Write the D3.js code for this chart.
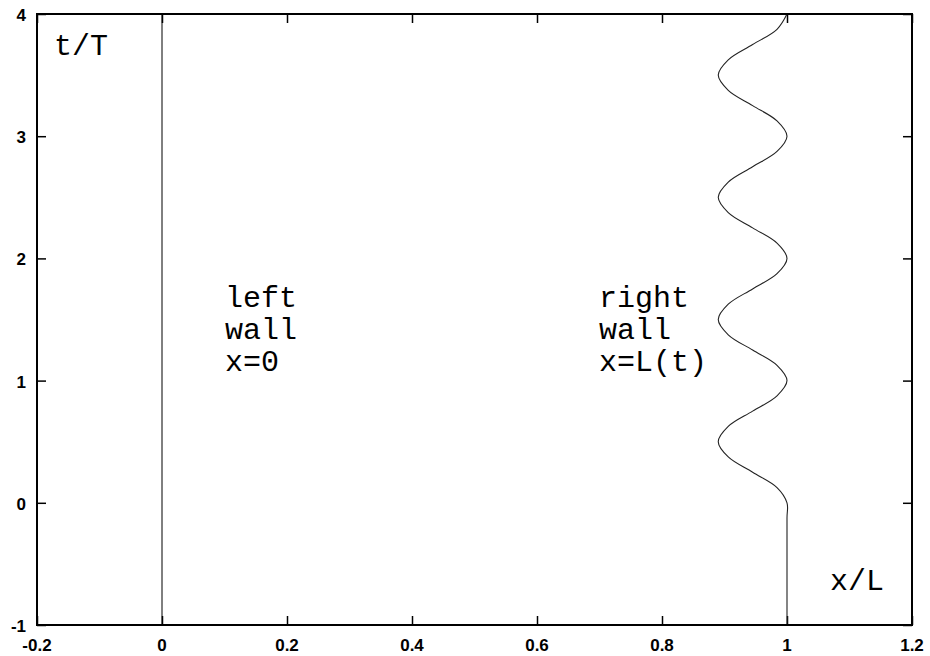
<!DOCTYPE html>
<html>
<head>
<meta charset="utf-8">
<script src="https://d3js.org/d3.v7.min.js"></script>
<style>
  body { margin: 0; background: #fff; }
  svg { display: block; }
</style>
</head>
<body>
<svg id="svg" width="930" height="656"></svg>
<script>
// x/L ticks and t/T ticks
const xTicks = [-0.2, 0, 0.2, 0.4, 0.6, 0.8, 1, 1.2];
const xTickLabels = ['-0.2', '0', '0.2', '0.4', '0.6', '0.8', '1', '1.2'];
const yTicks = [-1, 0, 1, 2, 3, 4];
const yTickLabels = ['-1', '0', '1', '2', '3', '4'];

// left wall: x = 0 for all t
const leftWallT = [-1, 4];
const leftWallX = [0, 0];

// right wall x = L(t)
const rightWallT = [-1, -0.125, 0, 0.125, 0.25, 0.375, 0.5, 0.625, 0.75, 0.875,
    1, 1.125, 1.25, 1.375, 1.5, 1.625, 1.75, 1.875,
    2, 2.125, 2.25, 2.375, 2.5, 2.625, 2.75, 2.875,
    3, 3.125, 3.25, 3.375, 3.5, 3.625, 3.75, 3.875, 4];
const rightWallX = [1, 1, 1, 0.984, 0.945, 0.906, 0.89, 0.906, 0.945, 0.984,
    1, 0.984, 0.945, 0.906, 0.89, 0.906, 0.945, 0.984,
    1, 0.984, 0.945, 0.906, 0.89, 0.906, 0.945, 0.984,
    1, 0.984, 0.945, 0.906, 0.89, 0.906, 0.945, 0.984, 1];

const svg = d3.select('#svg');
const padding = {top: 14, right: 18, bottom: 31, left: 37};
const chartArea = {
    'width': 930 - padding.left - padding.right,
    'height': 656 - padding.top - padding.bottom
};
const monoFont = '"Liberation Mono", "Courier New", "DejaVu Sans Mono", monospace';
const sansFont = '"Liberation Sans", Arial, sans-serif';

const xScale = d3.scaleLinear().domain([-0.2, 1.2]).range([0, chartArea.width]);
const yScale = d3.scaleLinear().domain([-1, 4]).range([chartArea.height, 0]);

const g = svg.append('g')
    .attr('transform', 'translate(' + padding.left + ',' + padding.top + ')');

// inward tick marks on all four sides, no labels from the axis itself
function ticksOnly(sel) {
    sel.select('.domain').remove();
    sel.selectAll('.tick text').remove();
    sel.selectAll('.tick line').attr('stroke', '#000').attr('stroke-width', 1.5);
}
g.append('g')
    .attr('transform', 'translate(0,' + chartArea.height + ')')
    .call(d3.axisBottom(xScale).tickValues(xTicks).tickSize(-9))
    .call(ticksOnly);
g.append('g')
    .call(d3.axisTop(xScale).tickValues(xTicks).tickSize(-9))
    .call(ticksOnly);
g.append('g')
    .call(d3.axisLeft(yScale).tickValues(yTicks).tickSize(-9))
    .call(ticksOnly);
g.append('g')
    .attr('transform', 'translate(' + chartArea.width + ',0)')
    .call(d3.axisRight(yScale).tickValues(yTicks).tickSize(-9))
    .call(ticksOnly);

// tick labels
g.selectAll('text.xlab').data(xTicks)
    .enter()
    .append('text')
    .classed('xlab', true)
    .attr('x', function(d) { return xScale(d); })
    .attr('y', chartArea.height + 26)
    .attr('text-anchor', 'middle')
    .attr('font-family', sansFont)
    .attr('font-size', 17)
    .attr('font-weight', 'bold')
    .attr('fill', '#000')
    .text(function(d, i) { return xTickLabels[i]; });

g.selectAll('text.ylab').data(yTicks)
    .enter()
    .append('text')
    .classed('ylab', true)
    .attr('x', -11)
    .attr('y', function(d) { return yScale(d) + 7; })
    .attr('text-anchor', 'end')
    .attr('font-family', sansFont)
    .attr('font-size', 17)
    .attr('font-weight', 'bold')
    .attr('fill', '#000')
    .text(function(d, i) { return yTickLabels[i]; });

// walls
const line = d3.line()
    .x(function(d) { return xScale(d[0]); })
    .y(function(d) { return yScale(d[1]); });

g.append('path')
    .attr('d', line(d3.zip(leftWallX, leftWallT)))
    .attr('fill', 'none')
    .attr('stroke', '#000')
    .attr('stroke-width', 1);

g.append('path')
    .attr('d', line.curve(d3.curveCatmullRom)(d3.zip(rightWallX, rightWallT)))
    .attr('fill', 'none')
    .attr('stroke', '#222')
    .attr('stroke-width', 1.1);

// frame
g.append('rect')
    .attr('width', chartArea.width)
    .attr('height', chartArea.height)
    .attr('fill', 'none')
    .attr('stroke', '#000')
    .attr('stroke-width', 2);

// labels
function addLabel(x, y, s) {
    svg.append('text')
        .attr('x', x).attr('y', y)
        .attr('font-family', monoFont)
        .attr('font-size', 30)
        .attr('fill', '#000')
        .text(s);
}
addLabel(54, 55, 't/T');
addLabel(830, 590, 'x/L');

const leftLines = ['left', 'wall', 'x=0'];
const rightLines = ['right', 'wall', 'x=L(t)'];
leftLines.forEach(function(s, i) { addLabel(225, 307 + i * 32, s); });
rightLines.forEach(function(s, i) { addLabel(599, 307 + i * 32, s); });
</script>
</body>
</html>
